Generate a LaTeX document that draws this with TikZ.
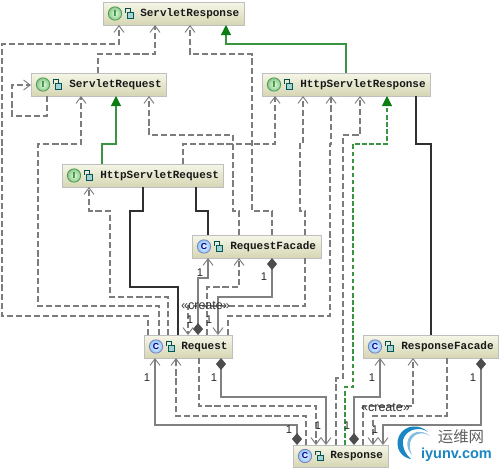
\documentclass[tikz,border=0pt]{standalone}
\usepackage{fontspec}
\setmainfont{Liberation Sans}
\newfontfamily\boxfont{Liberation Mono}
\newfontfamily\cjkfont{Noto Sans CJK SC}
\usetikzlibrary{arrows.meta,shadows,calc}
\definecolor{dashgray}{HTML}{7C7C7C}
\definecolor{solidgray}{HTML}{808080}
\definecolor{lineblack}{HTML}{303030}
\definecolor{greenline}{HTML}{3A9440}
\definecolor{greentip}{HTML}{0B7D12}
\definecolor{boxtop}{HTML}{F6F6E8}
\definecolor{boxbot}{HTML}{D6D6B4}
\definecolor{logoblue}{HTML}{1B86C4}
\definecolor{diamondc}{HTML}{4D4D4D}
\tikzset{
  x=0.75pt,y=-0.75pt,
  umlbox/.style={draw=black!25,line width=.6pt,top color=boxtop,bottom color=boxbot,
    inner sep=0pt,outer sep=0pt,
    drop shadow={shadow xshift=.8pt,shadow yshift=-.8pt,opacity=.3,fill=black}},
  umltext/.style={font=\boxfont\bfseries\fontsize{8.25pt}{9pt}\selectfont,anchor=west,inner sep=0pt,text=black!90},
  iconI/.style={circle,draw=green!45!black!70,line width=.6pt,inner color=green!12,outer color=green!50!black!45,
    minimum size=10pt,inner sep=0pt,font=\bfseries\fontsize{6.5pt}{7pt}\selectfont,text=green!40!black},
  iconC/.style={circle,draw=blue!45!black!50,line width=.6pt,inner color=blue!8,outer color=blue!45!cyan!45,
    minimum size=10pt,inner sep=0pt,font=\bfseries\fontsize{6.5pt}{7pt}\selectfont,text=blue!50!black},
  dep/.style={draw=dashgray,line width=.8pt,dash pattern=on 4.6pt off 2.2pt,-{Straight Barb[length=5pt,width=7.5pt,line width=.7pt]}},
  inh/.style={draw=greenline,line width=.8pt,-{Triangle[length=7.5pt,width=7.5pt,fill=greentip,color=greentip]}},
  inhd/.style={draw=greenline,line width=.8pt,dash pattern=on 3.5pt off 1.8pt,-{Triangle[length=7.5pt,width=7.5pt,fill=greentip,color=greentip]}},
  blk/.style={draw=lineblack,line width=.8pt},
  comp/.style={draw=solidgray,line width=.8pt,{Diamond[length=9pt,width=7.5pt,fill=diamondc,color=diamondc]}-{Straight Barb[length=5pt,width=7.5pt,line width=.7pt]}},
  mult/.style={font=\fontsize{8.4pt}{9pt}\selectfont,inner sep=0pt,text=black!85},
  stereo/.style={font=\fontsize{9.4pt}{10pt}\selectfont,inner sep=0pt,text=black!80},
}
% #1 name, #2 x1, #3 y1, #4 x2, #5 y2, #6 icon style, #7 letter, #8 text, #9 text x
\newcommand{\umlclass}[9]{%
  \node[umlbox,minimum width={(#4-#2)*.75pt},minimum height={(#5-#3)*.75pt}] (#1) at ({(#2+#4)/2},{(#3+#5)/2}) {};
  \node[#6] (#1-icon) at ({#2+12},{(#3+#5)/2}) {#7};
  \filldraw[draw=teal!70!black,fill=teal!35,line width=.5pt] ({#2+24},{(#3+#5)/2-1}) rectangle ({#2+30},{(#3+#5)/2+4.5});
  \draw[teal!60!black,line width=.5pt] ({#2+22},{(#3+#5)/2-1}) -- ({#2+22},{(#3+#5)/2-5}) -- ({#2+27},{(#3+#5)/2-5}) -- ({#2+27},{(#3+#5)/2-1});
  \node[umltext] (#1-label) at (#9,{(#3+#5)/2}) {#8};
}
\begin{document}
\begin{tikzpicture}
\useasboundingbox[fill=white] (0,0) rectangle (500,471);
\umlclass{sres}{103}{2}{244}{25}{iconI}{I}{ServletResponse}{140}
\umlclass{sreq}{31}{73}{166}{96}{iconI}{I}{ServletRequest}{69}
\umlclass{hreq}{62}{164}{223}{187}{iconI}{I}{HttpServletRequest}{100}
\umlclass{hres}{262}{73}{430}{96}{iconI}{I}{HttpServletResponse}{300}
\umlclass{rqf}{192}{235}{321}{258}{iconC}{C}{RequestFacade}{230}
\umlclass{req}{144}{335}{232}{358}{iconC}{C}{Request}{181}
\umlclass{rsf}{363}{335}{498}{358}{iconC}{C}{ResponseFacade}{401}
\umlclass{rsp}{293}{445}{388}{467}{iconC}{C}{Response}{330}

% dependencies (dashed, open arrow)
\draw[dep] (148,0 |- req.north) -- (148,316) -- (2,316) -- (2,44) -- (119,44) -- (119,0 |- sres.south);
\draw[dep] (98,0 |- sreq.north) -- (98,54) -- (155,54) -- (155,0 |- sres.south);
\draw[dep] (272,0 |- rqf.north) -- (272,211) -- (252,211) -- (252,54) -- (190,54) -- (190,0 |- sres.south);
\draw[dep] (47,0 |- sreq.south) -- (47,116) -- (12,116) -- (12,85) -- (sreq.west |- 0,85);
\draw[dep] (159,0 |- req.north) -- (159,306) -- (38,306) -- (38,144) -- (81,144) -- (81,0 |- sreq.south);
\draw[dep] (239,0 |- rqf.north) -- (239,211) -- (233,211) -- (233,135) -- (149,135) -- (149,0 |- sreq.south);
\draw[dep] (168,0 |- req.north) -- (168,297) -- (110,297) -- (110,211) -- (89,211) -- (89,0 |- hreq.south);
\draw[dep] (183,0 |- hreq.north) -- (183,144) -- (275,144) -- (275,0 |- hres.south);
\draw[dep] (305,0 |- rqf.north) -- (305,211) -- (300,211) -- (300,144) -- (303,144) -- (303,0 |- hres.south);
\draw[dep] (228,0 |- req.north) -- (228,316) -- (330,316) -- (330,144) -- (331,144) -- (331,0 |- hres.south);
\draw[dep] (336,0 |- rsp.north) -- (336,378) -- (343,378) -- (343,135) -- (360,135) -- (360,0 |- hres.south);
\draw[dep] (207,0 |- req.north) -- (207,287) -- (239,287) -- (239,0 |- rqf.south);
\draw[dep] (305,0 |- rqf.south) -- (305,306) -- (188,306) -- (188,0 |- req.north);
\draw[dep] (306,0 |- rsp.north) -- (306,416) -- (176,416) -- (176,0 |- req.south);
\draw[dep] (199,0 |- req.south) -- (199,406) -- (316,406) -- (316,0 |- rsp.north);
\draw[dep] (363,0 |- rsp.north) -- (363,406) -- (413,406) -- (413,0 |- rsf.south);
\draw[dep] (447,0 |- rsf.south) -- (447,416) -- (373,416) -- (373,0 |- rsp.north);

% inheritance
\draw[inh] (102,0 |- hreq.north) -- (102,144) -- (116,144) -- (116,0 |- sreq.south);
\draw[inh] (346,0 |- hres.north) -- (346,44) -- (226,44) -- (226,0 |- sres.south);
\draw[inhd] (345,0 |- rsp.north) -- (345,387) -- (353,387) -- (353,144) -- (387,144) -- (387,0 |- hres.south);

% solid black lines
\draw[blk] (143,0 |- hreq.south) -- (143,211) -- (130,211) -- (130,287) -- (178,287) -- (178,0 |- req.north);
\draw[blk] (196,0 |- hreq.south) -- (196,211) -- (208,211) -- (208,0 |- rqf.north);
\draw[blk] (416,0 |- hres.south) -- (416,144) -- (431,144) -- (431,0 |- rsf.north);

% compositions / associations
\draw[comp] (198,0 |- req.north) -- (198,278) -- (208,278) -- (208,0 |- rqf.south);
\draw[comp] (272,0 |- rqf.south) -- (272,297) -- (218,297) -- (218,0 |- req.north);
\draw[comp] (297,0 |- rsp.north) -- (297,425) -- (155,425) -- (155,0 |- req.south);
\draw[comp] (221,0 |- req.south) -- (221,397) -- (326,397) -- (326,0 |- rsp.north);
\draw[comp] (354,0 |- rsp.north) -- (354,397) -- (380,397) -- (380,0 |- rsf.south);
\draw[comp] (481,0 |- rsf.south) -- (481,425) -- (383,425) -- (383,0 |- rsp.north);

% multiplicities and stereotypes
\node[mult] (m1) at (200,273) {1};
\node[mult] (m2) at (264,277) {1};
\node[mult] (m3) at (190,320) {1};
\node[mult] (m4) at (209,320) {1};
\node[mult] (m5) at (147,378) {1};
\node[mult] (m6) at (214,378) {1};
\node[mult] (m7) at (289,430) {1};
\node[mult] (m8) at (318,426) {1};
\node[mult] (m9) at (347,426) {1};
\node[mult] (m10) at (375,430) {1};
\node[mult] (m11) at (372,378) {1};
\node[mult] (m12) at (473,378) {1};
\node[stereo] (s1) at (205.5,306) {«create»};
\node[stereo] (s2) at (385.5,408) {«create»};

% watermark
\fill[logoblue] (428,432) .. controls (420,424) and (405,424) .. (399,436)
  .. controls (394,448) and (402,458) .. (411,459)
  .. controls (406,455) and (402,448) .. (403,440)
  .. controls (406,429) and (420,426) .. (428,432) -- cycle;
\fill[logoblue!55] (430,436) .. controls (422,429) and (411,431) .. (408,440)
  .. controls (406,447) and (409,452) .. (412,455)
  .. controls (409,449) and (409,443) .. (412,438)
  .. controls (417,432) and (425,432) .. (430,436) -- cycle;
\node[inner sep=0pt,text=black!62] (w1) at (461,437) {\cjkfont\fontsize{11.6pt}{12pt}\selectfont 运维网};
\node[inner sep=0pt,text=logoblue] (w2) at (456.5,455) {\bfseries\fontsize{10.9pt}{12pt}\selectfont iyunv.com};
\end{tikzpicture}
\end{document}
